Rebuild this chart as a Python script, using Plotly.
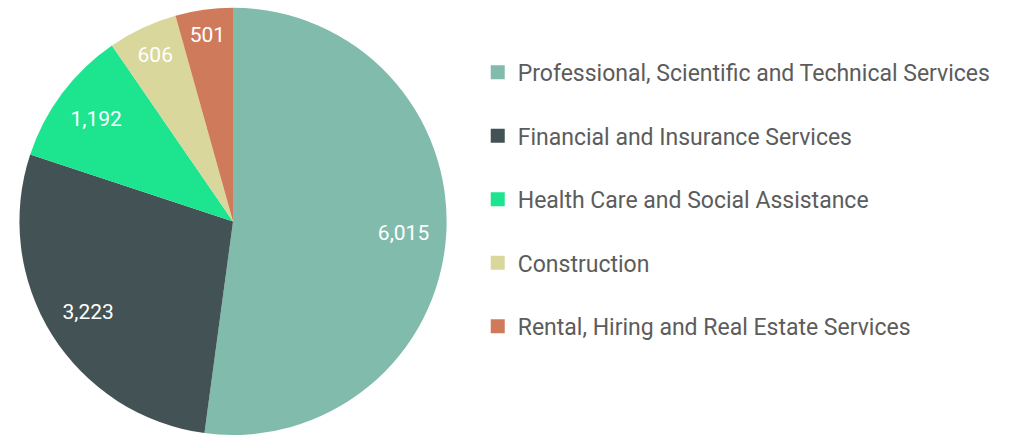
import plotly.graph_objects as go

categories = ["Professional, Scientific and Technical Services",
              "Financial and Insurance Services",
              "Health Care and Social Assistance",
              "Construction",
              "Rental, Hiring and Real Estate Services"]
values = [6015, 3223, 1192, 606, 501]
colors = ["#81bbab", "#435254", "#1de58f", "#d9d79c", "#d07a5c"]

dom = dict(x=[0.0186, 0.437], y=[0.0, 0.982])

fig = go.Figure()
fig.add_trace(go.Pie(
    labels=categories, values=values, sort=False, direction="clockwise",
    rotation=0, marker=dict(colors=colors, line=dict(width=0)),
    textinfo="none", showlegend=False, hoverinfo="label+value",
    domain=dom,
))
# transparent ring used only to place value labels at ~0.8 of the radius
fig.add_trace(go.Pie(
    labels=categories, values=values, sort=False, direction="clockwise",
    rotation=0, hole=0.6,
    marker=dict(colors=["rgba(0,0,0,0)"] * len(values), line=dict(width=0)),
    texttemplate="%{value:,}", textposition="inside",
    insidetextorientation="horizontal",
    textfont=dict(color="white", size=21, family="Roboto"),
    showlegend=False, hoverinfo="skip",
    domain=dom,
))
for i, (c, col) in enumerate(zip(categories, colors)):
    fig.add_trace(go.Scatter(
        x=[None], y=[None], mode="markers", name=c,
        marker=dict(symbol="square", size=14, color=col),
        legendgroup=f"g{i}", showlegend=True,
    ))
fig.update_layout(
    width=1023, height=435, margin=dict(l=0, r=0, t=0, b=0),
    paper_bgcolor="white", plot_bgcolor="white",
    xaxis=dict(visible=False), yaxis=dict(visible=False),
    legend=dict(x=0.467, y=0.883, xanchor="left", yanchor="top",
                font=dict(size=23, color="#5c5c5c", family="Roboto"),
                tracegroupgap=30.6, itemwidth=30, bgcolor="rgba(0,0,0,0)"),
    font=dict(family="Roboto"),
)
fig.write_html("out.html", config={"displayModeBar": False},
               post_script="document.body.style.margin='0';")
